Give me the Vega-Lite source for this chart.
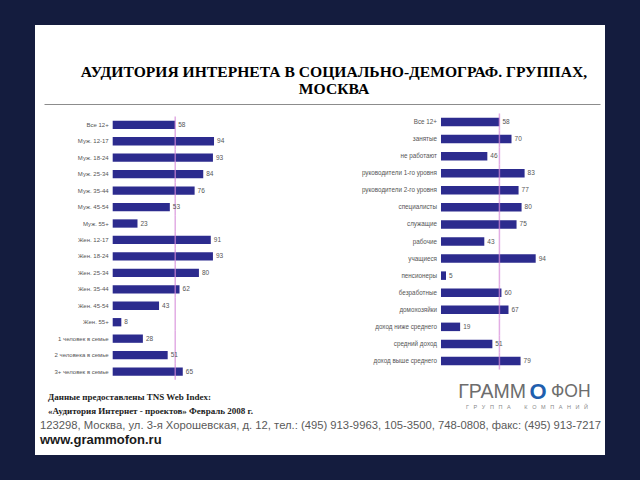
{
  "$schema": "https://vega.github.io/schema/vega-lite/v6.json",
  "width": 640,
  "height": 480,
  "autosize": {"type": "fit", "contains": "padding"},
  "padding": {"left": 35, "right": 35, "top": 25, "bottom": 25},
  "background": "#141c3e",
  "config": {"view": {"fill": "white", "stroke": null}},
  "title": {
    "text": ["АУДИТОРИЯ ИНТЕРНЕТА В СОЦИАЛЬНО-ДЕМОГРАФ. ГРУППАХ,", "МОСКВА"],
    "font": "Liberation Serif",
    "fontSize": 15.6,
    "fontWeight": "bold",
    "color": "#000000",
    "anchor": "middle",
    "frame": "group",
    "lineHeight": 17,
    "dx": 14,
    "offset": -73
  },
  "layer": [
    {
      "data": {"values": [
        {"group": "Все 12+", "value": 58},
        {"group": "Муж. 12-17", "value": 94},
        {"group": "Муж. 18-24", "value": 93},
        {"group": "Муж. 25-34", "value": 84},
        {"group": "Муж. 35-44", "value": 76},
        {"group": "Муж. 45-54", "value": 53},
        {"group": "Муж. 55+", "value": 23},
        {"group": "Жен. 12-17", "value": 91},
        {"group": "Жен. 18-24", "value": 93},
        {"group": "Жен. 25-34", "value": 80},
        {"group": "Жен. 35-44", "value": 62},
        {"group": "Жен. 45-54", "value": 43},
        {"group": "Жен. 55+", "value": 8},
        {"group": "1 человек в семье", "value": 28},
        {"group": "2 человека в семье", "value": 51},
        {"group": "3+ человек в семье", "value": 65}
      ]},
      "encoding": {
        "y": {"field": "group", "type": "nominal", "sort": null, "axis": null,
              "scale": {"range": [95.65, 350.71], "paddingInner": 0.495, "paddingOuter": 0}}
      },
      "layer": [
        {"mark": {"type": "bar", "color": "#2c2b8e"},
         "encoding": {"x": {"field": "value", "type": "quantitative", "axis": null,
                            "scale": {"domain": [-72.08, 456.7], "nice": false, "zero": false}}}},
        {"mark": {"type": "tick", "color": "#d68ad9", "thickness": 1.5, "size": 16.45},
         "encoding": {"x": {"datum": 58, "type": "quantitative"}}},
        {"mark": {"type": "text", "align": "left", "baseline": "middle", "dx": 3, "font": "Liberation Sans", "fontSize": 6.5, "color": "#555555"},
         "encoding": {"x": {"field": "value", "type": "quantitative"}, "text": {"field": "value"}}},
        {"mark": {"type": "text", "align": "right", "baseline": "middle", "dx": -4, "font": "Liberation Sans", "fontSize": 6, "color": "#555555"},
         "encoding": {"x": {"datum": 0, "type": "quantitative"}, "text": {"field": "group"}}}
      ]
    },
    {
      "data": {"values": [
        {"group": "Все 12+", "value": 58},
        {"group": "занятые", "value": 70},
        {"group": "не работают", "value": 46},
        {"group": "руководители 1-го уровня", "value": 83},
        {"group": "руководители 2-го уровня", "value": 77},
        {"group": "специалисты", "value": 80},
        {"group": "служащие", "value": 75},
        {"group": "рабочие", "value": 43},
        {"group": "учащиеся", "value": 94},
        {"group": "пенсионеры", "value": 5},
        {"group": "безработные", "value": 60},
        {"group": "домохозяйки", "value": 67},
        {"group": "доход ниже среднего", "value": 19},
        {"group": "средний доход", "value": 51},
        {"group": "доход выше среднего", "value": 79}
      ]},
      "encoding": {
        "y": {"field": "group", "type": "nominal", "sort": null, "axis": null,
              "scale": {"range": [92.75, 340.25], "paddingInner": 0.502, "paddingOuter": 0}}
      },
      "layer": [
        {"mark": {"type": "bar", "color": "#2c2b8e"},
         "encoding": {"x": {"field": "value", "type": "quantitative", "axis": null,
                            "scale": {"domain": [-403.0, 162.8], "nice": false, "zero": false}}}},
        {"mark": {"type": "tick", "color": "#d68ad9", "thickness": 1.5, "size": 17.07},
         "encoding": {"x": {"datum": 58, "type": "quantitative"}}},
        {"mark": {"type": "text", "align": "left", "baseline": "middle", "dx": 3, "font": "Liberation Sans", "fontSize": 6.5, "color": "#555555"},
         "encoding": {"x": {"field": "value", "type": "quantitative"}, "text": {"field": "value"}}},
        {"mark": {"type": "text", "align": "right", "baseline": "middle", "dx": -4, "font": "Liberation Sans", "fontSize": 6.3, "color": "#555555"},
         "encoding": {"x": {"datum": 0, "type": "quantitative"}, "text": {"field": "group"}}}
      ]
    },
    {
      "encoding": {
        "x": {"datum": "left", "type": "ordinal",
              "scale": {"type": "point", "domain": ["left", "right"], "range": [9, 565], "padding": 0},
              "axis": {"orient": "top", "offset": -79, "domain": true, "domainColor": "#8c8c8c", "domainWidth": 1, "labels": false, "ticks": false, "grid": false, "title": null}},
        "y": {"datum": "r1", "type": "ordinal",
              "scale": {"type": "point", "domain": ["r1", "r2", "r3", "r4"], "range": [372, 415], "padding": 0},
              "axis": null}
      },
      "layer": [
        {"data": {"values": [{"text": "Данные предоставлены TNS Web Index:"}]},
         "mark": {"type": "text", "align": "left", "baseline": "middle", "dx": 4, "font": "Liberation Serif", "fontWeight": "bold", "fontSize": 9, "color": "#222222"},
         "encoding": {"text": {"field": "text"}}},
        {"data": {"values": [{"text": "«Аудитория Интернет - проектов» Февраль 2008 г."}]},
         "mark": {"type": "text", "align": "left", "baseline": "middle", "dx": 4, "font": "Liberation Serif", "fontWeight": "bold", "fontSize": 9, "color": "#222222"},
         "encoding": {"y": {"datum": "r2", "type": "ordinal"}, "text": {"field": "text"}}},
        {"data": {"values": [{"text": "123298, Москва, ул. 3-я Хорошевская, д. 12, тел.: (495) 913-9963, 105-3500, 748-0808, факс: (495) 913-7217"}]},
         "mark": {"type": "text", "align": "left", "baseline": "middle", "dx": -4, "font": "Liberation Sans", "fontSize": 11.25, "color": "#5a5a5a"},
         "encoding": {"y": {"datum": "r3", "type": "ordinal"}, "text": {"field": "text"}}},
        {"data": {"values": [{"text": "www.grammofon.ru"}]},
         "mark": {"type": "text", "align": "left", "baseline": "middle", "dx": -4, "font": "Liberation Sans", "fontWeight": "bold", "fontSize": 13, "color": "#1a1a1a"},
         "encoding": {"y": {"datum": "r4", "type": "ordinal"}, "text": {"field": "text"}}},
        {"data": {"values": [{"text": "ГРАММ"}]},
         "mark": {"type": "text", "align": "right", "baseline": "middle", "dx": -74, "dy": -5, "font": "Liberation Sans", "fontSize": 19.5, "color": "#6d6d6d"},
         "encoding": {"x": {"datum": "right", "type": "ordinal"}, "text": {"field": "text"}}},
        {"data": {"values": [{"text": "O"}]},
         "mark": {"type": "text", "align": "center", "baseline": "middle", "dx": -62, "dy": -5, "font": "Liberation Sans", "fontWeight": "bold", "fontSize": 22, "color": "#1f5fae"},
         "encoding": {"x": {"datum": "right", "type": "ordinal"}, "text": {"field": "text"}}},
        {"data": {"values": [{"text": "ФОН"}]},
         "mark": {"type": "text", "align": "left", "baseline": "middle", "dx": -49, "dy": -5, "font": "Liberation Sans", "fontSize": 17.5, "color": "#6d6d6d"},
         "encoding": {"x": {"datum": "right", "type": "ordinal"}, "text": {"field": "text"}}},
        {"data": {"values": [{"text": "Г\u00a0\u00a0\u00a0Р\u00a0\u00a0\u00a0У\u00a0\u00a0\u00a0П\u00a0\u00a0\u00a0П\u00a0\u00a0\u00a0А\u00a0\u00a0\u00a0\u00a0\u00a0\u00a0\u00a0\u00a0\u00a0К\u00a0\u00a0\u00a0О\u00a0\u00a0\u00a0М\u00a0\u00a0\u00a0П\u00a0\u00a0\u00a0А\u00a0\u00a0\u00a0Н\u00a0\u00a0\u00a0И\u00a0\u00a0\u00a0Й"}]},
         "mark": {"type": "text", "align": "center", "baseline": "middle", "dx": -73, "dy": -4, "font": "Liberation Sans", "fontSize": 5.5, "color": "#888888"},
         "encoding": {"x": {"datum": "right", "type": "ordinal"}, "y": {"datum": "r2", "type": "ordinal"}, "text": {"field": "text"}}}
      ]
    }
  ],
  "resolve": {"scale": {"x": "independent", "y": "independent"}}
}
